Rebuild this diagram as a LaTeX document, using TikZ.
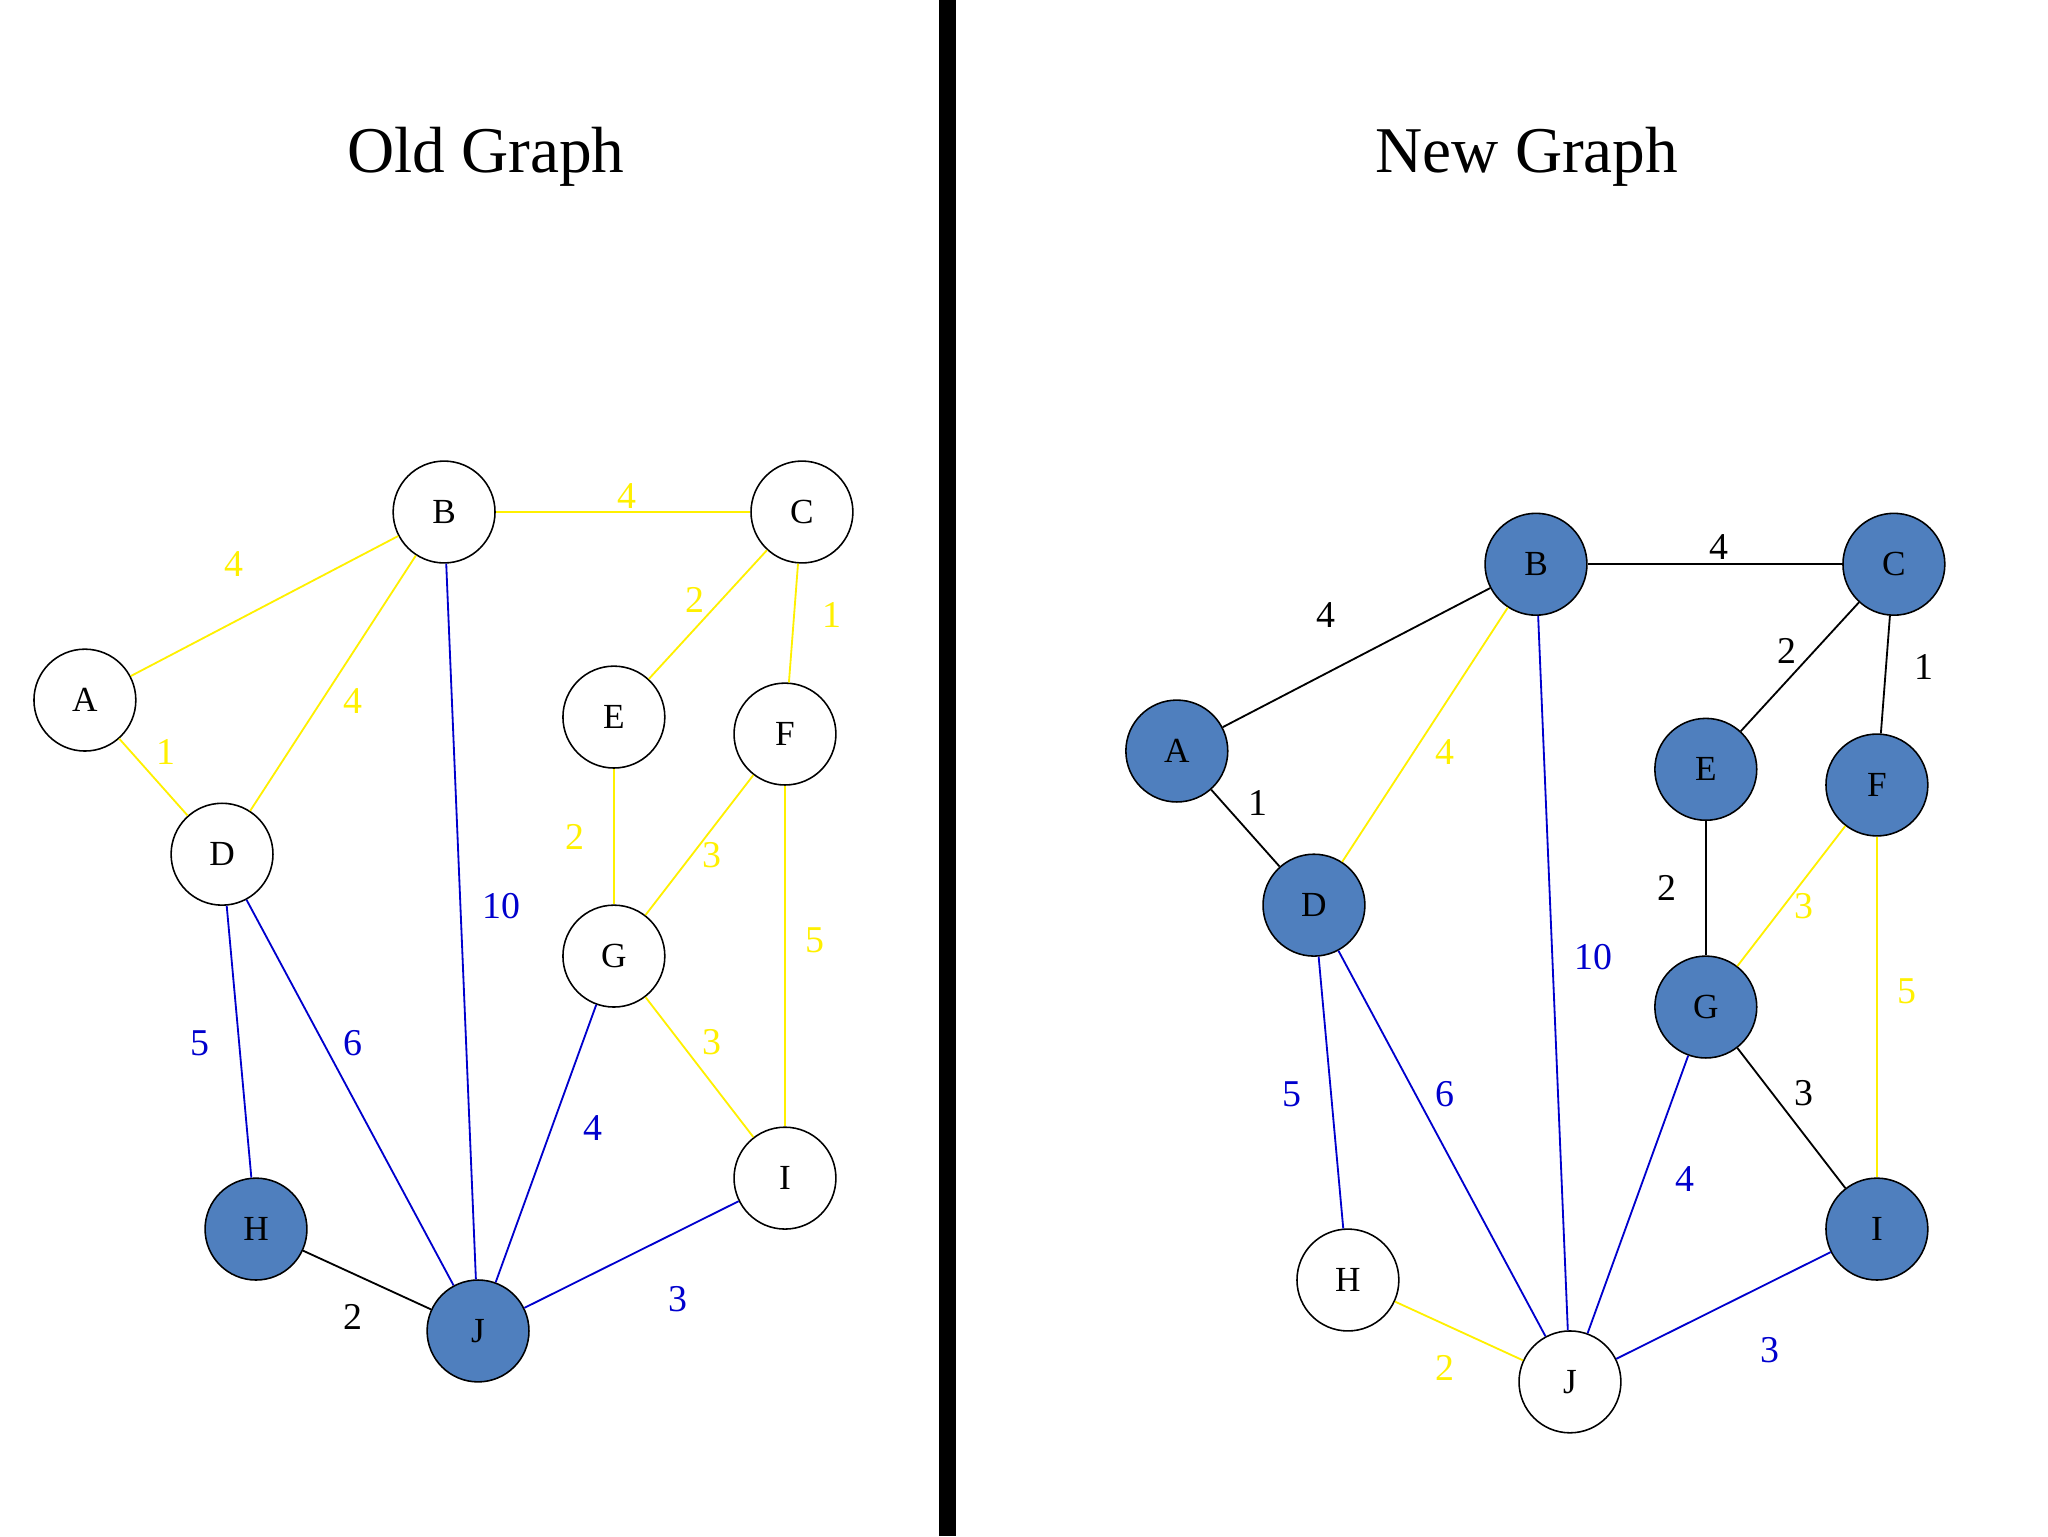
\documentclass[tikz,border=0pt]{standalone}
\usepackage{fontspec}
\setmainfont{Liberation Serif}
\definecolor{nf}{RGB}{79,127,190}
\definecolor{ye}{RGB}{255,240,0}
\definecolor{bl}{RGB}{0,0,205}
\colorlet{bk}{black}
\begin{document}
\begin{tikzpicture}[x=1pt,y=-1pt,
  w/.style={circle,draw,line width=1.2pt,minimum size=78pt,inner sep=0pt,fill=white,font=\fontsize{27}{27}\selectfont},
  f/.style={w,fill=nf},
  lab/.style={font=\fontsize{29}{29}\selectfont,inner sep=0pt},
  ed/.style={line width=1.4pt}]
\useasboundingbox (0,0) rectangle (1568,1176);
\fill (719,0) rectangle (732,1176);
\node[font=\fontsize{50}{50}\selectfont] (t1) at (372,120) {Old Graph};
\node[font=\fontsize{50}{50}\selectfont] (t2) at (1169,120) {New Graph};
% Left graph
\foreach \n/\x/\y/\s in {B/340/392/w,C/614/392/w,A/65/536/w,E/470/549/w,F/601/562/w,D/170/654/w,G/470/732/w,I/601/902/w,H/196/941/f,J/366/1019/f}
  \node[\s] (L\n) at (\x,\y) {\n};
\begin{scope}[on background layer/.try]
\end{scope}
\foreach \a/\b/\c/\l/\px/\py in {A/B/ye/4/179/432,B/C/ye/4/480/380,B/D/ye/4/270/537,A/D/ye/1/127/576,C/E/ye/2/532/459,C/F/ye/1/637/471,E/G/ye/2/440/641,F/G/ye/3/545/655,F/I/ye/5/624/720,G/I/ye/3/545/798,B/J/bl/10/384/694,D/H/bl/5/153/799,D/J/bl/6/270/799,G/J/bl/4/454/864,I/J/bl/3/519/995,H/J/bk/2/270/1008}
  {\draw[ed,\c] (L\a) -- (L\b); \node[lab,text=\c] (LL\a\b) at (\px,\py) {\l};}
% Right graph
\foreach \n/\x/\y/\s in {B/1176/432/f,C/1450/432/f,A/901/575/f,E/1306/589/f,F/1437/601/f,D/1006/693/f,G/1306/771/f,I/1437/941/f,H/1032/980/w,J/1202/1058/w}
  \node[\s] (R\n) at (\x,\y) {\n};
\foreach \a/\b/\c/\l/\px/\py in {A/B/bk/4/1015/471,B/C/bk/4/1316/419,B/D/ye/4/1106/576,A/D/bk/1/963/615,C/E/bk/2/1368/498,C/F/bk/1/1473/511,E/G/bk/2/1276/680,F/G/ye/3/1381/694,F/I/ye/5/1460/759,G/I/bk/3/1381/837,B/J/bl/10/1220/733,D/H/bl/5/989/838,D/J/bl/6/1106/838,G/J/bl/4/1290/903,I/J/bl/3/1355/1034,H/J/ye/2/1106/1047}
  {\draw[ed,\c] (R\a) -- (R\b); \node[lab,text=\c] (RL\a\b) at (\px,\py) {\l};}
\end{tikzpicture}
\end{document}
